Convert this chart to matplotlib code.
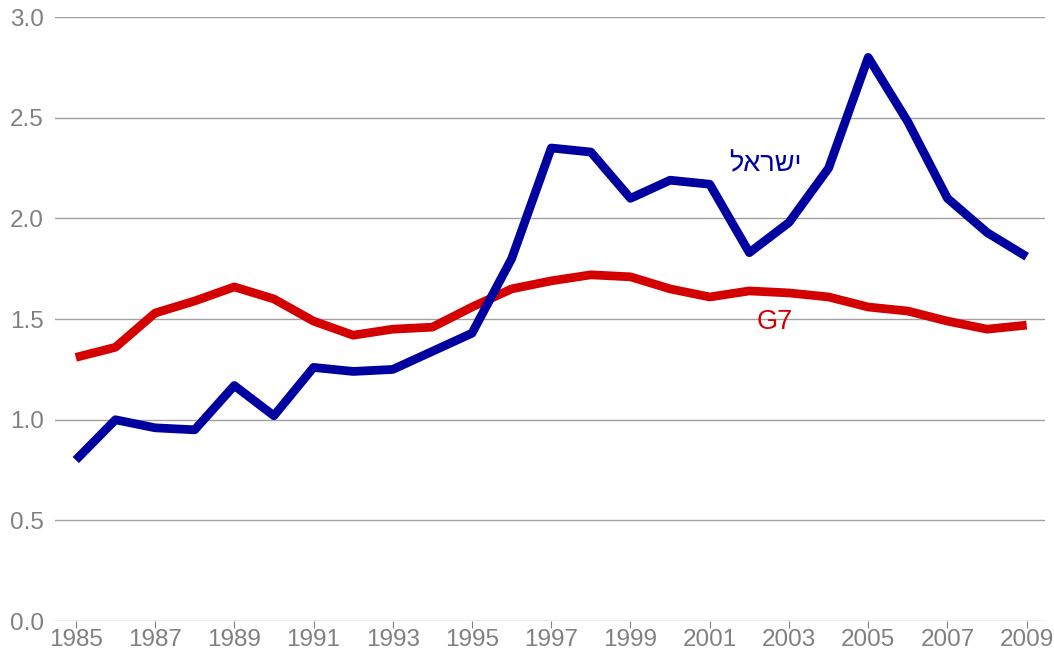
import matplotlib
matplotlib.use('Agg')
import matplotlib.pyplot as plt

years = list(range(1985, 2010))
israel = [0.80, 1.00, 0.96, 0.95, 1.17, 1.02, 1.26, 1.24, 1.25, 1.34, 1.43,
          1.80, 2.35, 2.33, 2.10, 2.19, 2.17, 1.83, 1.98, 2.25, 2.80, 2.48,
          2.10, 1.93, 1.81]
g7 = [1.31, 1.36, 1.53, 1.59, 1.66, 1.60, 1.49, 1.42, 1.45, 1.46, 1.56,
      1.65, 1.69, 1.72, 1.71, 1.65, 1.61, 1.64, 1.63, 1.61, 1.56, 1.54,
      1.49, 1.45, 1.47]
yticks = [0.0, 0.5, 1.0, 1.5, 2.0, 2.5, 3.0]
xticks = list(range(1985, 2010, 2))

plt.rcParams['font.family'] = ['Liberation Sans', 'DejaVu Sans']

fig = plt.figure(figsize=(10.54, 6.6), dpi=100)
ax = fig.add_axes([0.052, 0.059, 0.939, 0.915])

grey = '#808080'
for v in yticks:
    ax.axhline(v, color='#a0a0a0', lw=1.0, zorder=1)

ax.plot(years, g7, color='#d40000', lw=6.3, solid_capstyle='butt', zorder=3)
ax.plot(years, israel, color='#0000a0', lw=6.3, solid_capstyle='butt', zorder=4)

ax.text(2002.4, 2.27, 'ישראל'[::-1], color='#0000a0', fontsize=19.5,
        ha='center', va='center')
ax.text(2002.65, 1.485, 'G7', color='#d40000', fontsize=19.5, ha='center', va='center')

ax.set_xlim(1984.47, 2009.45)
ax.set_ylim(0, 3.0)
ax.set_yticks(yticks)
ax.set_yticklabels(['%.1f' % v for v in yticks])
ax.set_xticks(xticks)
ax.set_xticklabels([str(x) for x in xticks])
for s in ax.spines.values():
    s.set_visible(False)
ax.tick_params(axis='y', length=0, pad=8, labelsize=17.5, labelcolor=grey)
ax.tick_params(axis='x', length=5, color=grey, pad=1, labelsize=17.5, labelcolor=grey)

fig.savefig('out.png', dpi=100)
